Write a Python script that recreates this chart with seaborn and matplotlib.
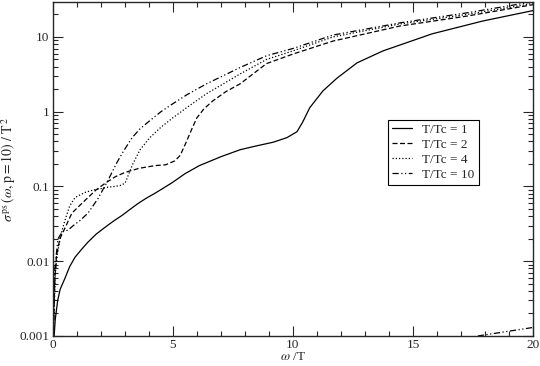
import numpy as np
import seaborn as sns
import matplotlib.pyplot as plt
from matplotlib.ticker import FixedLocator, LogLocator, NullFormatter, MultipleLocator

# values
x1 = [0.05, 0.1, 0.2, 0.3, 0.5, 0.7, 0.92, 1.2, 1.46, 1.8, 2.17, 2.5, 2.88, 3.2, 3.54, 3.9, 4.25, 4.6, 4.96,
      5.5, 6.1, 7.0, 7.8, 8.5, 9.17, 9.75, 10.17, 10.4, 10.7, 11.25, 11.83, 12.67, 13.75, 15.8, 17.9, 20.0]
y1 = [0.001, 0.0017, 0.003, 0.0042, 0.0059, 0.0085, 0.0113, 0.0145, 0.018, 0.023, 0.0284, 0.034, 0.041,
      0.049, 0.059, 0.07, 0.081, 0.095, 0.112, 0.148, 0.19, 0.25, 0.31, 0.35, 0.39, 0.45, 0.54, 0.72, 1.13,
      1.9, 2.8, 4.5, 6.5, 11, 16.3, 22.5]

x2 = [0.02, 0.08, 0.15, 0.29, 0.42, 0.79, 1.1, 1.46, 1.8, 2.17, 2.6, 3.0, 3.6, 4.25, 4.7, 5.08, 5.3, 5.45,
      5.58, 5.8, 6.0, 6.3, 6.67, 7.2, 7.8, 8.9, 10.0, 11.67, 14.46, 17.25, 20.0]
y2 = [0.001, 0.006, 0.012, 0.02, 0.0244, 0.044, 0.055, 0.071, 0.09, 0.11, 0.135, 0.154, 0.175, 0.19, 0.195,
      0.22, 0.26, 0.33, 0.41, 0.6, 0.83, 1.1, 1.4, 1.85, 2.36, 4.4, 5.9, 8.8, 14, 19, 27]

x4 = [0.02, 0.1, 0.21, 0.35, 0.5, 0.7, 0.92, 1.33, 1.7, 2.04, 2.3, 2.58, 2.8, 3.0, 3.33, 3.63, 4.04, 4.5,
      5.0, 5.6, 6.4, 7.8, 8.9, 10.0, 11.67, 14.46, 17.25, 20.0]
y4 = [0.001, 0.007, 0.014, 0.024, 0.035, 0.055, 0.071, 0.083, 0.09, 0.094, 0.098, 0.1, 0.103, 0.11, 0.2,
      0.31, 0.45, 0.62, 0.83, 1.15, 1.74, 3.2, 5.0, 6.5, 10.0, 14.9, 20, 28]

x10 = [0.02, 0.08, 0.21, 0.4, 0.63, 0.85, 1.13, 1.46, 1.88, 2.29, 2.67, 2.95, 3.3, 3.63, 4.04, 4.5, 5.0,
       5.6, 6.4, 7.8, 8.9, 10.0, 11.67, 14.5, 17.25, 20.0]
y10 = [0.001, 0.008, 0.02, 0.025, 0.026, 0.03, 0.035, 0.044, 0.069, 0.12, 0.21, 0.30, 0.45, 0.59, 0.76,
       1.0, 1.28, 1.7, 2.36, 3.9, 5.6, 7.0, 10.6, 15.5, 21, 29.5]

x_tail = [17.7, 20.0]
y_tail = [0.001, 0.0013]

labels = ["T/Tc = 1", "T/Tc = 2", "T/Tc = 4", "T/Tc = 10"]

sns.set_style("ticks")
plt.rcParams['font.family'] = ['Liberation Serif', 'DejaVu Serif']
plt.rcParams['mathtext.fontset'] = 'stix'

fig = plt.figure(figsize=(5.4, 3.66), dpi=100)
ax = fig.add_axes([0.098, 0.082, 0.889, 0.9125])

styles = ["-", (0, (4, 2)), (0, (1, 1.6)), (0, (5, 2, 1, 2, 1, 2))]
series = [(x1, y1), (x2, y2), (x4, y4), (x10, y10)]
for (xs, ys), lab, ls in zip(series, labels, styles):
    sns.lineplot(x=xs, y=ys, ax=ax, color="black", linewidth=0.9, label=lab,
                 linestyle=ls, sort=False)
sns.lineplot(x=x_tail, y=y_tail, ax=ax, color="black", linewidth=0.9,
             linestyle=styles[3], sort=False)

ax.set_yscale("log")
ax.set_xlim(0, 20)
ax.set_ylim(0.001, 29.3)
ax.xaxis.set_major_locator(MultipleLocator(5))
ax.xaxis.set_minor_locator(MultipleLocator(1))
ax.yaxis.set_major_locator(FixedLocator([0.001, 0.01, 0.1, 1, 10]))
ax.yaxis.set_minor_locator(LogLocator(base=10, subs=np.arange(2, 10)))
ax.yaxis.set_minor_formatter(NullFormatter())
ax.set_yticklabels(["0.001", "0.01", "0.1", "1", "10"])
ax.tick_params(which="both", direction="in", top=True, right=True, labelsize=9.5, width=0.8, pad=2.5)
ax.tick_params(which="major", length=7)
ax.tick_params(which="minor", length=3.5)
for s in ax.spines.values():
    s.set_linewidth(1.0)

ax.set_xlabel(r"$\omega$ /T", fontsize=9.5, labelpad=0)
ax.set_ylabel(r"$\sigma^{\,\mathrm{ps}}\,(\omega,\mathrm{p = 10})\ /\ \mathrm{T}^{\,2}$", fontsize=10, labelpad=1)

leg = ax.legend(loc="upper left", bbox_to_anchor=(0.698, 0.647), fancybox=False,
                edgecolor="black", fontsize=9.5, handlelength=1.5, borderpad=0.3,
                labelspacing=0.2, handletextpad=0.8, borderaxespad=0, framealpha=1)
leg.get_frame().set_linewidth(0.8)

fig.savefig("out.png", dpi=100)
